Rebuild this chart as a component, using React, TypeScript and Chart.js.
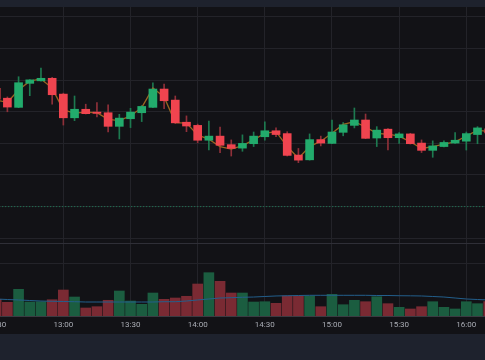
import React, { useEffect, useRef } from 'react';
import { Chart, registerables } from 'chart.js';

Chart.register(...registerables);

// ---- data (5-minute candles starting 12:30) ----
const TIME_TICKS = [0, 6, 12, 18, 24, 30, 36, 42];
const TIME_LABELS = ['12:30', '13:00', '13:30', '14:00', '14:30', '15:00', '15:30', '16:00'];

const OPEN = [104.74, 104.43, 104.14, 104.9, 104.98, 105.06, 104.56, 103.81, 104.08, 103.99, 103.97, 103.54, 103.78, 103.97, 104.14, 104.72, 104.37, 103.67, 103.57, 103.1, 103.23, 102.96, 102.85, 102.99, 103.21, 103.4, 103.31, 102.63, 102.48, 103.12, 103.0, 103.35, 103.57, 103.74, 103.17, 103.45, 103.18, 103.3, 103.01, 102.78, 102.9, 103.01, 103.07, 103.28, 103.46];
const HIGH = [104.82, 104.47, 105.11, 105.02, 105.38, 105.09, 104.59, 104.5, 104.24, 104.29, 104.22, 103.92, 104.11, 104.2, 104.92, 104.88, 104.5, 103.87, 103.61, 103.71, 103.52, 103.11, 103.27, 103.36, 103.68, 103.49, 103.37, 102.84, 103.3, 103.23, 103.74, 103.66, 104.12, 103.93, 103.53, 103.47, 103.34, 103.32, 103.11, 103.08, 103.08, 103.34, 103.36, 103.53, 103.52];
const LOW = [104.37, 104.0, 104.13, 104.51, 104.97, 104.24, 103.58, 103.72, 103.93, 103.84, 103.36, 103.14, 103.5, 103.69, 104.13, 104.1, 103.63, 103.37, 103.02, 102.79, 102.71, 102.6, 102.75, 102.9, 103.1, 103.21, 102.6, 102.39, 102.47, 102.92, 102.99, 103.24, 103.49, 103.15, 102.9, 102.79, 103.0, 102.98, 102.71, 102.56, 102.89, 103.0, 102.79, 102.99, 103.3];
const CLOSE = [104.4, 104.15, 104.92, 105.01, 105.06, 104.54, 103.81, 104.08, 103.94, 103.95, 103.54, 103.8, 103.99, 104.17, 104.72, 104.35, 103.65, 103.55, 103.1, 103.23, 102.94, 102.84, 103.0, 103.23, 103.4, 103.28, 102.62, 102.47, 103.12, 103.01, 103.36, 103.59, 103.74, 103.16, 103.42, 103.18, 103.3, 102.99, 102.78, 102.92, 103.03, 103.1, 103.31, 103.49, 103.33];
const PRICE_MA = [104.37, 104.3, 104.69, 104.97, 105.04, 104.75, 104.06, 103.96, 103.99, 103.97, 103.76, 103.72, 103.87, 104.13, 104.75, 104.47, 103.66, 103.64, 103.27, 103.13, 102.9, 102.82, 102.93, 103.11, 103.32, 103.37, 102.9, 102.53, 102.9, 103.07, 103.32, 103.6, 103.69, 103.52, 103.32, 103.29, 103.23, 103.05, 102.84, 102.9, 102.98, 103.05, 103.23, 103.42, 103.37];
const VOLUME = [321, 263, 513, 269, 275, 313, 500, 365, 154, 179, 302, 481, 288, 225, 442, 321, 346, 379, 615, 833, 667, 442, 442, 269, 275, 244, 385, 385, 385, 179, 417, 217, 302, 275, 371, 237, 167, 135, 179, 275, 167, 135, 275, 237, 275];
const VOLUME_MA = [327, 317, 308, 298, 288, 283, 279, 275, 269, 269, 269, 269, 269, 269, 269, 275, 275, 288, 308, 327, 346, 352, 360, 365, 375, 385, 390, 394, 398, 398, 398, 398, 398, 398, 394, 394, 390, 388, 385, 375, 365, 346, 327, 317, 308];
const PRICE_TICKS = [100, 101, 102, 103, 104, 105, 106, 107];
const VOLUME_TICKS = [1000];
const LAST_PRICE = 101.0;

// ---- styles ----
const UP = '#22ab6c';
const DOWN = '#f0444f';
const WICK_UP = '#1d7a50';
const WICK_DOWN = '#8f3039';
const VOL_UP = '#1b5d40';
const VOL_DOWN = '#7a2a33';
const GRID = '#232329';
const SEP = '#2f2f37';
const AXIS = '#3b3b42';
const LABEL = '#a9acb4';

export default function App() {
  const ref = useRef<HTMLCanvasElement>(null);

  useEffect(() => {
    const canvas = ref.current;
    if (!canvas) return;
    const idx = OPEN.map((_, i) => i);
    const up = (i: number) => CLOSE[i] >= OPEN[i];
    const volSep = 1384.6;

    const chart = new Chart(canvas, {
      type: 'bar',
      data: {
        datasets: [
          {
            type: 'line',
            label: 'last',
            data: [{ x: 0, y: LAST_PRICE }, { x: OPEN.length - 1, y: LAST_PRICE }],
            yAxisID: 'y',
            borderColor: '#1e8059',
            borderWidth: 1,
            borderDash: [1, 2],
            pointRadius: 0,
            order: 8,
          } as any,
          {
            type: 'bar',
            label: 'Volume',
            data: idx.map((i) => ({ x: i, y: VOLUME[i] })),
            yAxisID: 'yv',
            backgroundColor: idx.map((i) => (up(i) ? VOL_UP : VOL_DOWN)),
            barThickness: 10,
            grouped: false,
            borderWidth: 0,
            order: 7,
          } as any,
          {
            type: 'line',
            label: 'Volume MA',
            data: idx.map((i) => ({ x: i, y: VOLUME_MA[i] })),
            yAxisID: 'yv',
            borderColor: '#235f8c',
            borderWidth: 1,
            pointRadius: 0,
            order: 6,
          } as any,
          {
            type: 'bar',
            label: 'wick',
            data: idx.map((i) => ({ x: i, y: [LOW[i], HIGH[i]] })),
            yAxisID: 'y',
            backgroundColor: idx.map((i) => (up(i) ? WICK_UP : WICK_DOWN)),
            barThickness: 1,
            grouped: false,
            borderWidth: 0,
            order: 5,
          } as any,
          {
            type: 'line',
            label: 'MA',
            data: idx.map((i) => ({ x: i, y: PRICE_MA[i] })),
            yAxisID: 'y',
            borderColor: '#9a6421',
            borderWidth: 1.3,
            pointRadius: 0,
            order: 4,
          } as any,
          {
            type: 'bar',
            label: 'body',
            data: idx.map((i) => ({ x: i, y: [OPEN[i], CLOSE[i]] })),
            yAxisID: 'y',
            backgroundColor: idx.map((i) => (up(i) ? UP : DOWN)),
            barThickness: 8,
            grouped: false,
            borderWidth: 0,
            minBarLength: 1,
            order: 1,
          } as any,
        ],
      },
      options: {
        animation: false,
        responsive: false,
        devicePixelRatio: 1,
        events: [],
        layout: { padding: { top: 7, bottom: 26, left: 0, right: 0 } },
        plugins: { legend: { display: false }, tooltip: { enabled: false } },
        scales: {
          x: {
            type: 'linear',
            min: 0.34,
            max: 43.67,
            offset: false,
            afterBuildTicks: (s: any) => {
              s.ticks = TIME_TICKS.map((v) => ({ value: v }));
            },
            afterFit: (s: any) => {
              s.height = 18;
              s.paddingLeft = 0;
              s.paddingRight = 0;
            },
            grid: { color: GRID, drawTicks: false, lineWidth: 1, offset: false },
            border: { display: true, color: AXIS },
            ticks: {
              color: LABEL,
              font: { family: 'Roboto', size: 8 },
              padding: 4,
              maxRotation: 0,
              autoSkip: false,
              callback: (v: any) => TIME_LABELS[TIME_TICKS.indexOf(Number(v))] ?? '',
            },
          },
          y: {
            type: 'linear',
            position: 'left',
            min: 97.538,
            max: 107.316,
            afterBuildTicks: (s: any) => {
              s.ticks = PRICE_TICKS.map((v) => ({ value: v }));
            },
            afterFit: (s: any) => {
              s.width = 0;
            },
            ticks: { display: false },
            grid: { color: GRID, drawTicks: false },
            border: { display: false },
          },
          yv: {
            type: 'linear',
            position: 'left',
            min: 0,
            max: 5942,
            afterBuildTicks: (s: any) => {
              s.ticks = [...VOLUME_TICKS, volSep].map((v) => ({ value: v }));
            },
            afterFit: (s: any) => {
              s.width = 0;
            },
            ticks: { display: false },
            grid: {
              color: (c: any) => (c.tick && c.tick.value === volSep ? SEP : GRID),
              drawTicks: false,
            },
            border: { display: false },
          },
        },
      } as any,
    });
    return () => chart.destroy();
  }, []);

  return (
    <div
      style={{
        position: 'fixed',
        left: 0,
        top: 0,
        width: 485,
        height: 360,
        overflow: 'hidden',
        background: 'linear-gradient(#1e222d 0px, #1e222d 7px, #121216 7px, #121216 334px, #1e222d 334px)',
      }}
    >
      <canvas ref={ref} width={485} height={360} style={{ display: 'block', width: 485, height: 360 }} />
    </div>
  );
}
